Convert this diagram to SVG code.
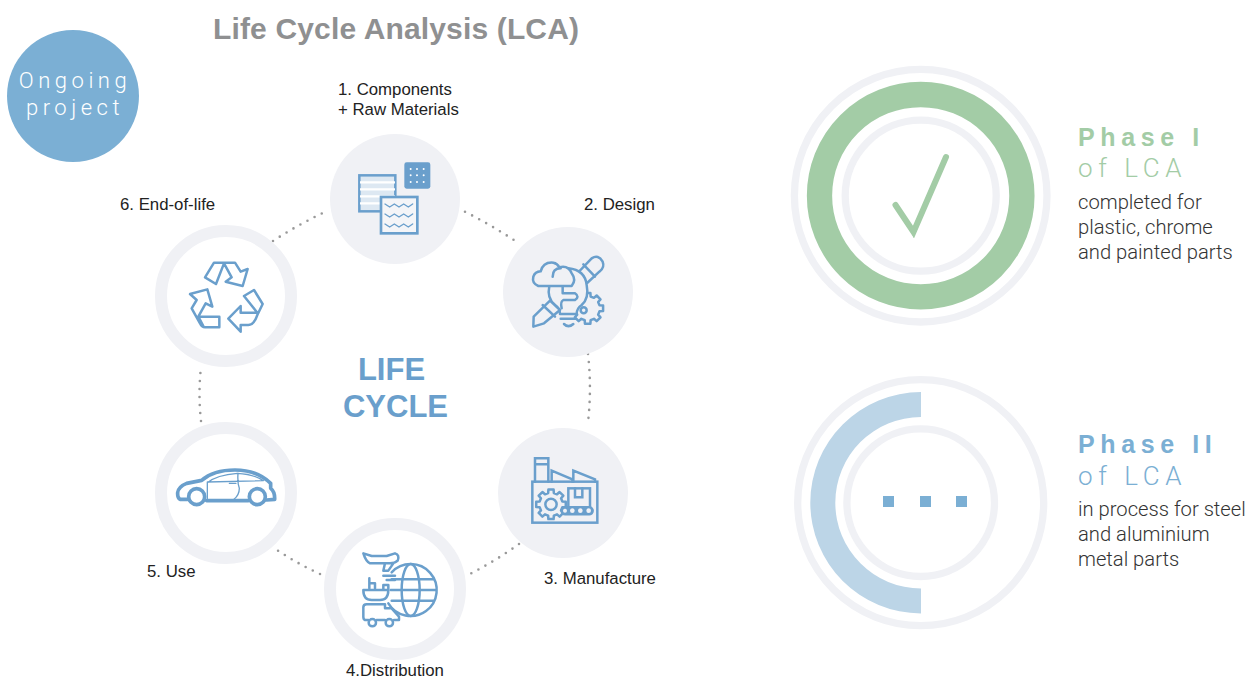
<svg xmlns="http://www.w3.org/2000/svg" width="1248" height="678" viewBox="0 0 1248 678">
<style>
text{font-family:"Liberation Sans",Arial,sans-serif}
.lbl{font-size:16.800px;fill:#222}
.body{font-family:Roboto,"Liberation Sans",sans-serif;font-weight:300;font-size:20.200px;fill:#333}
.ph{font-size:25px;font-weight:700;letter-spacing:5.600px}
.of{font-family:Roboto,"Liberation Sans",sans-serif;font-weight:300;font-size:26px;letter-spacing:5.600px}
.big{font-size:31px;font-weight:700;fill:#6a9fcc;text-anchor:middle}
.on{font-family:Roboto,"Liberation Sans",sans-serif;font-weight:300;font-size:22px;letter-spacing:4.500px;fill:#fff;text-anchor:middle}
.disc{fill:#f0f1f5}
.ring{fill:none;stroke:#f0f1f5;stroke-width:12}
.thin{fill:none;stroke:#f0f1f5;stroke-width:7.300}
.dots{fill:none;stroke:#999;stroke-width:2.600;stroke-linecap:round;stroke-dasharray:0 8}
.ic{fill:none;stroke:#6a9fcc;stroke-width:7.500;stroke-linejoin:round;stroke-linecap:round}
.f{fill:#f0f1f5}
.m{stroke-linejoin:miter}
.ict{stroke-width:4}
.thick{stroke-width:11}
</style>
<defs>
<path id="gear" d="M.757-.189L.985-.174V.174L.757.189L.669.402L.819.574L.574.819L.402.669L.189.757L.174.985H-.174L-.189.757L-.402.669L-.574.819L-.819.574L-.669.402L-.757.189L-.985.174V-.174L-.757-.189L-.669-.402L-.819-.574L-.574-.819L-.402-.669L-.189-.757L-.174-.985H.174L.189-.757L.402-.669L.574-.819L.819-.574L.669-.402Z"/>
</defs>
<text id="title" x="213" y="39" font-size="30" font-weight="700" fill="#8f9091" textLength="366" lengthAdjust="spacing">Life Cycle Analysis (LCA)</text>
<g id="ongoing">
<circle cx="73" cy="96" r="66" fill="#7bafd4"/>
<text class="on" x="75" y="88">Ongoing</text>
<text class="on" x="75" y="115">project</text>
</g>
<g id="connectors">
<path class="dots" d="M465 211.700Q493 226 519 243.300"/>
<path class="dots" d="M588 354Q592 389 587.700 425"/>
<path class="dots" d="M519 544Q494 562 466 576"/>
<path class="dots" d="M320 574Q296 563 274 548"/>
<path class="dots" d="M201 421Q198 394 201 367"/>
<path class="dots" d="M273 241Q299 224 327 211"/>
</g>
<g id="node-1">
<circle class="disc" cx="395" cy="199" r="65"/>
<text class="lbl" x="338" y="95">1. Components</text>
<text class="lbl" x="338" y="115">+ Raw Materials</text>
<g transform="translate(320 130) scale(.33333)">
<rect x="118" y="136" width="108" height="108" fill="#dde8f2" stroke="#6a9fcc" stroke-width="7.500"/>
<path d="M120 157H225M120 178H225M120 199H225M120 220H225" stroke="#fff" stroke-width="7" fill="none"/>
<rect x="183" y="201" width="109" height="109" fill="#f4f5f8" stroke="#6a9fcc" stroke-width="8"/>
<path class="ic ict" d="M195 222l14 9 14-9 14 9 14-9 14 9 13-9M195 252l14 9 14-9 14 9 14-9 14 9 13-9M195 282l14 9 14-9 14 9 14-9 14 9 13-9"/>
<rect x="253" y="97" width="78" height="79" rx="7" fill="#6a9fcc"/>
<path d="M272 117h0M291 117h0M311 117h0M272 136h0M291 136h0M311 136h0M272 156h0M291 156h0M311 156h0" stroke="#fff" stroke-width="6" stroke-linecap="round"/>
</g>
</g>
<g id="node-2">
<circle class="disc" cx="568" cy="292" r="65"/>
<text class="lbl" x="584" y="210">2. Design</text>
<g transform="translate(320 130) scale(.33333)">
<use href="#gear" class="ic" style="stroke-width:.16" transform="translate(803 535) scale(47)"/>
<path class="ic f" d="M770 432L815 385Q835 372 848 395Q855 412 838 425L795 465ZM790 403L825 440"/>
<path class="ic f" d="M688 468Q680 505 705 525Q720 535 720 552H770Q770 535 785 525Q808 505 800 465Q795 420 745 415Q695 420 688 468Z"/>
<path class="ic f" d="M690 512L641 560L640 590L672 580L720 540ZM668 525L705 560"/>
<path class="ic f" d="M725 468H655Q635 460 640 440Q645 425 662 424Q670 395 700 398Q712 400 718 412Q745 405 755 430Q770 450 755 468H725"/>
<path class="ic" d="M728 470V490H765Q780 500 765 510H730Q720 515 725 535M722 566H768M732 582Q745 595 760 582"/>
<path class="ic" d="M698 440Q698 415 722 415"/>
<circle class="ic f" cx="791" cy="541" r="9"/>
</g>
</g>
<g id="node-3">
<circle class="disc" cx="563" cy="493" r="65"/>
<text class="lbl" x="544" y="584">3. Manufacture</text>
<g transform="translate(490 420) scale(.33333)">
<rect class="ic m" x="127" y="185" width="195" height="123"/>
<path class="ic m" d="M135 185V115H175V185M135 133H175M185 185V152L247 178V185M250 185V152L315 178V185"/>
<use href="#gear" class="ic" style="stroke-width:.167" transform="translate(183 253) scale(45)"/>
<circle class="ic" cx="183" cy="253" r="17"/>
<rect class="ic m" x="235" y="205" width="65" height="57"/>
<path class="ic m" d="M255 205V232H277V205"/>
<rect class="ic" x="215" y="262" width="93" height="21" rx="10.500" style="fill:#6a9fcc"/>
<circle cx="225" cy="272" r="6" fill="#f0f1f5"/><circle cx="247" cy="272" r="7" fill="#f0f1f5"/><circle cx="271" cy="272" r="7" fill="#f0f1f5"/><circle cx="296" cy="272" r="7" fill="#f0f1f5"/>
</g>
</g>
<g id="node-4">
<circle class="ring" cx="395" cy="589" r="65"/>
<text class="lbl" x="346" y="676">4.Distribution</text>
<g transform="translate(320 520) scale(.33333)">
<path class="ic" d="M215 157A78 78 0 1 1 205 250M215 178H342M212 210H350M215 242H342"/>
<ellipse class="ic" cx="272" cy="210" rx="27" ry="78"/>
<path class="ic" d="M130 100L155 108H200L225 100Q240 105 233 122Q225 130 210 130H150Q138 125 130 100ZM195 130L190 152H205L220 130M190 167H225M200 180H225"/>
<path class="ic" d="M130 210H205Q205 240 180 240H155Q130 240 130 210ZM148 205V175M148 190H165V205M190 208V195H205V208"/>
<path class="ic" d="M145 300H135Q130 298 130 290V262Q130 253 140 253H195V265H215L237 290V300H222M170 300H195"/>
<circle class="ic" cx="157" cy="308" r="11"/><circle class="ic" cx="208" cy="308" r="11"/>
</g>
</g>
<g id="node-5">
<circle class="ring" cx="226" cy="493" r="65"/>
<text class="lbl" x="147" y="577">5. Use</text>
<g transform="translate(150 420) scale(.33333)">
<path class="ic thick" d="M112 238H90Q82 235 83 218Q85 200 110 190L155 181Q190 150 255 150Q320 150 362 190L362 205Q375 215 374 238L350 240M170 242H295"/>
<circle class="ic thick" cx="140" cy="230" r="24"/><circle class="ic thick" cx="322" cy="230" r="24"/>
<path class="ic ict" d="M172 188Q200 165 262 160Q310 162 340 182L172 186V240M264 160Q262 190 268 205Q268 225 252 238M238 190H258"/>
</g>
</g>
<g id="node-6">
<circle class="ring" cx="226" cy="296" r="65"/>
<text class="lbl" x="120" y="210">6. End-of-life</text>
<g transform="translate(150 220) scale(.33333)">
<path class="ic" d="M165 172L192 128H255L272 155L293 147L278 198L227 185L245 172L222 130L198 192L165 172Z"/>
<path class="ic" d="M282 228L312 210L338 252L322 285Q312 315 295 315H272V335L235 296L272 258V278H322L282 228"/>
<path class="ic" d="M120 222L172 208L187 260L167 250L145 290H208V322H165Q155 322 150 310L125 265L140 240ZM145 290L160 318"/>
</g>
</g>
<g id="center-label">
<text class="big" x="391.500" y="380">LIFE</text>
<text class="big" x="395.500" y="417">CYCLE</text>
</g>
<g id="phase-1">
<circle class="thin" cx="920.700" cy="195.700" r="126.300"/>
<circle cx="920.700" cy="195.700" r="101.200" fill="none" stroke="#a3cca6" stroke-width="25.300"/>
<circle class="thin" cx="920.700" cy="195.700" r="75.500"/>
<path d="M895.500 205L913.500 232L946 157" fill="none" stroke="#a3cca6" stroke-width="6" stroke-linecap="round"/>
<path d="M910 226L913.500 238L918 226Z" fill="#a3cca6"/>
<text class="ph" x="1078" y="146" fill="#a3cca6">Phase I</text>
<text class="of" x="1078" y="177" fill="#a3cca6">of LCA</text>
<text class="body" x="1078" y="208.500">completed for</text>
<text class="body" x="1078" y="233.500">plastic, chrome</text>
<text class="body" x="1078" y="258.500">and painted parts</text>
</g>
<g id="phase-2">
<circle class="thin" cx="920.700" cy="502.700" r="123"/>
<path d="M921 392A110.700 110.700 0 0 0 921 613.400V588.400A85.700 85.700 0 0 1 921 417Z" fill="#bcd5e7"/>
<circle class="thin" cx="920.700" cy="502.700" r="73.800"/>
<rect x="883" y="496" width="11" height="11" fill="#7bafd4"/>
<rect x="920" y="496" width="11" height="11" fill="#7bafd4"/>
<rect x="956" y="496" width="11" height="11" fill="#7bafd4"/>
<text class="ph" x="1078" y="453" fill="#7bafd4">Phase II</text>
<text class="of" x="1078" y="485" fill="#7bafd4">of LCA</text>
<text class="body" x="1078" y="515.500">in process for steel</text>
<text class="body" x="1078" y="540.500">and aluminium</text>
<text class="body" x="1078" y="565.500">metal parts</text>
</g>
</svg>
